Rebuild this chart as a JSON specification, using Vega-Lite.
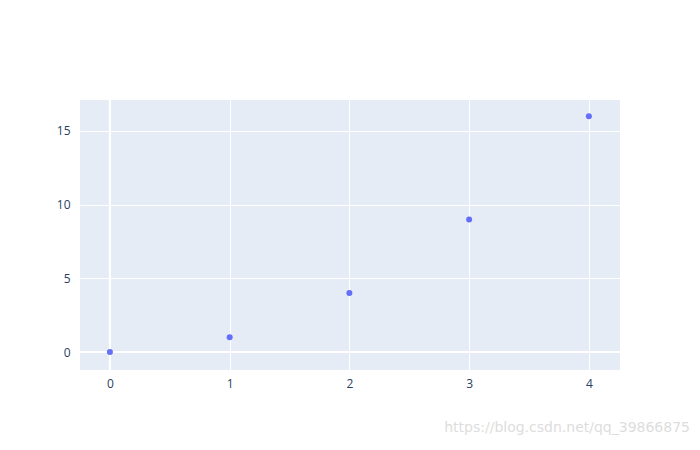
{
  "$schema": "https://vega.github.io/schema/vega-lite/v6.json",
  "width": 540,
  "height": 270,
  "autosize": "none",
  "padding": {"left": 80, "top": 100, "right": 80, "bottom": 80},
  "background": "white",
  "config": {
    "view": {"fill": "#E5ECF6", "stroke": null},
    "font": "Open Sans",
    "axis": {
      "domain": false,
      "ticks": false,
      "grid": true,
      "gridColor": "white",
      "gridWidth": 1,
      "gridOpacity": 1,
      "labelColor": "#2a3f5f",
      "labelFontSize": 12,
      "labelFont": "Open Sans",
      "title": null
    }
  },
  "title": {
    "text": "https://blog.csdn.net/qq_39866875",
    "orient": "bottom",
    "anchor": "end",
    "frame": "group",
    "color": "#dddddd",
    "fontSize": 14,
    "fontWeight": "normal",
    "font": "DejaVu Sans",
    "dx": 70,
    "offset": 32
  },
  "data": {"values": [
    {"x": 0, "y": 0},
    {"x": 1, "y": 1},
    {"x": 2, "y": 4},
    {"x": 3, "y": 9},
    {"x": 4, "y": 16}
  ]},
  "layer": [
    {
      "mark": {"type": "rule", "color": "white", "strokeWidth": 2},
      "encoding": {"y": {"datum": 0, "type": "quantitative",
              "scale": {"domain": [-1.22, 17.1], "nice": false, "zero": false},
              "axis": {"values": [0, 5, 10, 15], "labelPadding": 10, "format": "d", "grid": true}}}
    },
    {
      "mark": {"type": "rule", "color": "white", "strokeWidth": 2},
      "encoding": {"x": {"datum": 0, "type": "quantitative",
              "scale": {"domain": [-0.25, 4.26], "nice": false, "zero": false},
              "axis": {"values": [0, 1, 2, 3, 4], "labelPadding": 8, "format": "d", "grid": true}}}
    },
    {
      "mark": {"type": "circle", "color": "#636efa", "opacity": 1, "size": 36},
      "encoding": {
        "x": {"field": "x", "type": "quantitative",
              "scale": {"domain": [-0.25, 4.26], "nice": false, "zero": false},
              "axis": {"values": [0, 1, 2, 3, 4], "labelPadding": 8, "format": "d", "grid": true}},
        "y": {"field": "y", "type": "quantitative",
              "scale": {"domain": [-1.22, 17.1], "nice": false, "zero": false},
              "axis": {"values": [0, 5, 10, 15], "labelPadding": 10, "format": "d", "grid": true}}
      }
    }
  ]
}
